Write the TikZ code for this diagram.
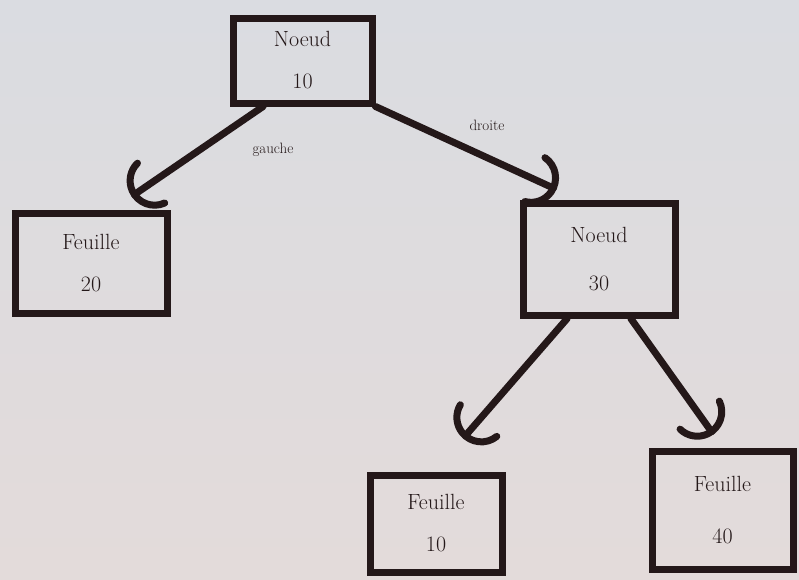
\documentclass[tikz,border=0pt]{standalone}
\usetikzlibrary{arrows.meta,calc}
\definecolor{paperTop}{HTML}{DADCE1}
\definecolor{paperBot}{HTML}{E3DBDA}
\definecolor{ink}{HTML}{241819}
\tikzset{
  treebox/.style={draw=ink, line width=7pt, rectangle, align=center,
    text=ink, font=\fontsize{22}{42}\selectfont, inner sep=0pt},
  link/.style={draw=ink, line width=7pt, line cap=round,
    -{Arc Barb[arc=160,length=28pt,round]}},
  edgelabel/.style={text=ink, font=\fontsize{15}{17}\selectfont}
}
\begin{document}
\begin{tikzpicture}[x=1pt,y=-1pt]
  % paper
  \shade[top color=paperTop, bottom color=paperBot] (0,0) rectangle (799,579);
  \useasboundingbox (0,0) rectangle (799,579);

  % nodes of the tree
  \node[treebox, minimum width=139pt, minimum height=85pt] (n10) at (302.5,60.5) {Noeud\\10};
  \node[treebox, minimum width=152pt, minimum height=100pt] (f20) at (91,263) {Feuille\\20};
  \node[treebox, minimum width=152pt, minimum height=112pt] (n30) at (599,259) {Noeud\\[6pt]30};
  \node[treebox, minimum width=132pt, minimum height=97pt] (f10) at (436,523.5) {Feuille\\10};
  \node[treebox, minimum width=141pt, minimum height=118pt] (f40) at (722.5,510) {Feuille\\[10pt]40};

  % arrow tips just above the children
  \coordinate (tg) at ($(f20.north east)+(-39,-13)$);
  \coordinate (td) at ($(n30.north west)+(37,-10)$);
  \coordinate (tl) at ($(f10.north)+(27,-33)$);
  \coordinate (tr) at ($(f40.north)+(-9,-13)$);

  % branches
  \draw[link] ($(n10.south west)!0.23!(n10.south east)$) -- (tg);
  \draw[link] (n10.south east) -- (td);
  \draw[link] ($(n30.south west)!0.3!(n30.south east)$) -- (tl);
  \draw[link] ($(n30.south west)!0.7!(n30.south east)$) -- (tr);

  % branch labels
  \node[edgelabel] (lg) at (273,150) {gauche};
  \node[edgelabel] (ld) at (487,125) {droite};
\end{tikzpicture}
\end{document}
